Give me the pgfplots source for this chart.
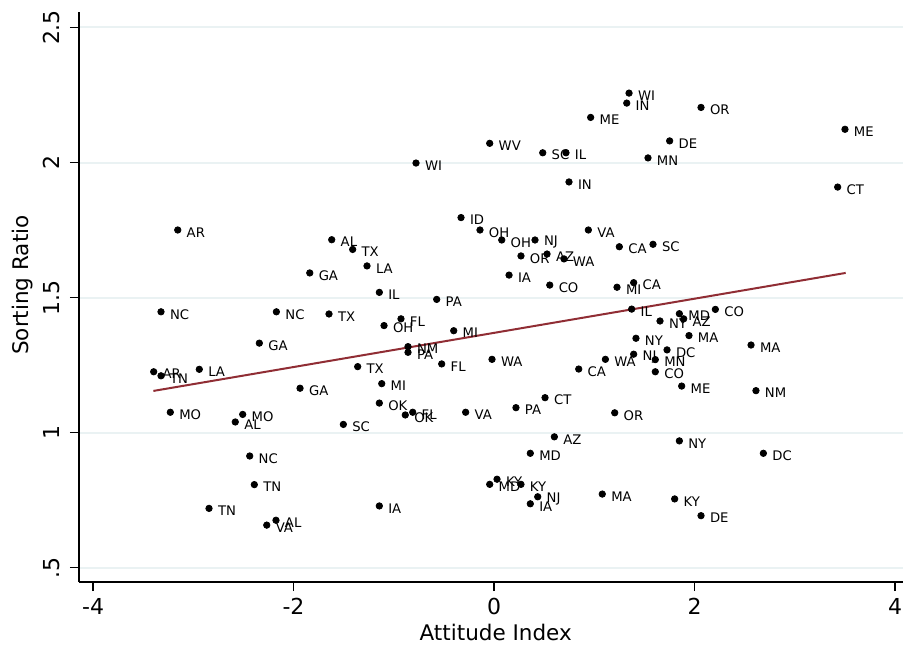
\documentclass[border=0pt]{standalone}
\usepackage{fontspec}
\setmainfont{DejaVu Sans}
\newfontfamily\labfont{DejaVu Sans}
\usepackage{pgfplots}
\pgfplotsset{compat=1.18}
\definecolor{gridc}{RGB}{234,242,243}
\definecolor{fitc}{RGB}{144,45,52}
\begin{document}
\begin{tikzpicture}
\begin{axis}[
  at={(0,0)}, anchor=south west,
  scale only axis, width=412pt, height=285pt,
  xmin=-4.140, xmax=4.080, ymin=0.4463, ymax=2.5574,
  axis x line*=bottom, axis y line*=left,
  axis line style={-, line width=0.7pt, black},
  tick align=outside, major tick length=4.5pt,
  tick style={line width=0.7pt, black},
  xtick={-4,-2,0,2,4}, xticklabels={-4,-2,0,2,4},
  ytick={0.5,1,1.5,2,2.5}, yticklabels={.5,1,1.5,2,2.5},
  ymajorgrids, major grid style={line width=1pt, color=gridc},
  tick label style={font=\fontsize{11}{12}\selectfont},
  y tick label style={rotate=90, anchor=south, inner sep=5pt},
  xlabel={Attitude Index}, ylabel={Sorting Ratio},
  xlabel style={at={(axis description cs:0.5057,-0.0877)}, anchor=center, font=\fontsize{10.75}{12}\selectfont},
  ylabel style={at={(axis description cs:-0.068,0.521)}, anchor=center, rotate=0, font=\fontsize{10.75}{12}\selectfont},
  clip=false,
]
\addplot[only marks, mark=*, mark size=1.6pt, black,
  nodes near coords, point meta=explicit symbolic,
  nodes near coords align={anchor=west},
  nodes near coords style={anchor=west, xshift=4.3pt, yshift=-1.2pt, inner sep=0pt, font=\labfont\fontsize{6.6}{7}\selectfont, text=black}]
  table[x=x, y=y, meta=lab] {
x y lab
1.347 2.257 WI
1.324 2.220 IN
0.964 2.167 ME
2.065 2.204 OR
-0.043 2.071 WV
0.486 2.036 SC
0.718 2.036 IL
1.752 2.080 DE
1.536 2.017 MN
0.748 1.928 IN
-0.778 1.998 WI
-0.329 1.796 ID
-0.140 1.750 OH
0.077 1.713 OH
0.409 1.713 NJ
0.941 1.750 VA
1.250 1.688 CA
1.586 1.697 SC
0.269 1.654 OR
0.529 1.661 AZ
0.698 1.643 WA
0.150 1.583 IA
0.556 1.546 CO
1.227 1.538 MI
1.393 1.555 CA
1.373 1.457 IL
1.656 1.413 NY
1.849 1.440 MD
1.892 1.421 AZ
2.208 1.456 CO
1.416 1.349 NY
1.945 1.359 MA
2.564 1.324 MA
1.111 1.271 WA
1.393 1.290 NJ
1.726 1.306 DC
1.609 1.270 MN
0.845 1.235 CA
1.609 1.225 CO
1.872 1.172 ME
2.613 1.155 NM
0.509 1.129 CT
1.204 1.073 OR
0.219 1.092 PA
-0.283 1.075 VA
0.602 0.984 AZ
0.362 0.923 MD
0.030 0.827 KY
-0.043 0.808 MD
0.269 0.808 KY
0.436 0.762 NJ
0.362 0.736 IA
1.080 0.772 MA
1.849 0.969 NY
1.802 0.754 KY
2.065 0.692 DE
3.501 2.123 ME
3.428 1.909 CT
2.687 0.923 DC
-3.155 1.750 AR
-1.619 1.714 AL
-1.410 1.678 TX
-1.838 1.591 GA
-1.267 1.617 LA
-3.322 1.447 NC
-2.171 1.447 NC
-1.646 1.439 TX
-2.341 1.331 GA
-3.395 1.225 AR
-3.322 1.210 TN
-2.940 1.234 LA
-1.144 1.519 IL
-0.572 1.493 PA
-0.928 1.421 FL
-1.097 1.396 OH
-0.402 1.377 MI
-0.858 1.318 NM
-0.858 1.297 PA
-1.360 1.244 TX
-0.522 1.254 FL
-0.020 1.271 WA
-1.120 1.181 MI
-1.935 1.164 GA
-1.144 1.109 OK
-0.885 1.065 OK
-0.811 1.075 FL
-1.503 1.030 SC
-1.144 0.728 IA
-3.229 1.075 MO
-2.507 1.067 MO
-2.581 1.039 AL
-2.437 0.913 NC
-2.391 0.807 TN
-2.843 0.719 TN
-2.175 0.675 AL
-2.267 0.657 VA
};
\addplot[no marks, line width=1pt, fitc] coordinates {(-3.398,1.154) (3.508,1.591)};
\end{axis}
\pgfresetboundingbox
\path[use as bounding box] (-39.5pt,-34pt) rectangle (412pt,291pt);
\end{tikzpicture}
\end{document}
